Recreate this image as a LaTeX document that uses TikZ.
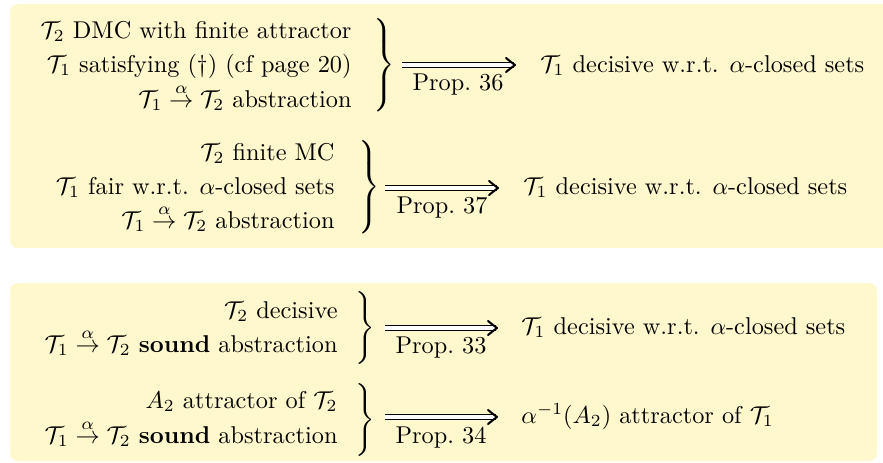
\documentclass[tikz,border=0pt]{standalone}
\usepackage{amsmath}
\usepackage{graphicx}
\usetikzlibrary{arrows.meta}
\definecolor{boxfill}{RGB}{255,248,204}
\delimiterfactor=1000
\delimitershortfall=0pt
\newcommand{\Tc}[1]{\mathcal{T}_{#1}}
\newcommand{\abstr}{$\Tc1 \stackrel{\alpha}{\rightarrow} \Tc2$}
\newcommand{\bracebox}[1]{$\left.\vcenter{\hbox{\rule{0pt}{#1}}}\right\}$}
\newcommand{\implhead}[1]{\draw[headline] ([shift={(-9,-7)}]#1) .. controls ([shift={(-3,-2.2)}]#1) .. (#1) .. controls ([shift={(-3,2.2)}]#1) .. ([shift={(-9,7)}]#1);}
\begin{document}
\begin{tikzpicture}[x=0.41152pt,y=-0.41152pt,
  panel/.style={fill=boxfill, draw=none, rounded corners=3.3pt},
  hyp/.style={anchor=base east, inner sep=0pt},
  res/.style={anchor=base west, inner sep=0pt},
  bracenode/.style={anchor=west, inner sep=0pt},
  lbl/.style={anchor=base, inner sep=0pt},
  implies/.style={double, double distance=1.3pt, line width=0.5pt, shorten >=0.6pt},
  headline/.style={line width=0.85pt, line cap=round, line join=round}]
\useasboundingbox (0,0) rectangle (883,462);
% panels
\fill[panel] (10,4) rectangle (900,248);
\fill[panel] (10,283) rectangle (877,461);
% block 1
\node[hyp] (h1a) at (352,38) {$\Tc2$ DMC with finite attractor};
\node[hyp] (h1b) at (352,72) {$\Tc1$ satisfying (\dag) (cf page 20)};
\node[hyp] (h1c) at (352,107) {\abstr{} abstraction};
\node[bracenode] (b1) at (370,65) {\scalebox{1}[1.07]{\bracebox{36pt}}};
\coordinate (a1s) at (402,65);
\coordinate (a1e) at (515,65);
\draw[implies] (a1s) -- (a1e);
\implhead{a1e}
\node[lbl] (p1) at (458,90) {Prop.~36};
\node[res] (r1) at (540,72) {$\Tc1$ decisive w.r.t. $\alpha$-closed sets};
% block 2
\node[hyp] (h2a) at (335,160) {$\Tc2$ finite MC};
\node[hyp] (h2b) at (335,194) {$\Tc1$ fair w.r.t. $\alpha$-closed sets};
\node[hyp] (h2c) at (335,228) {\abstr{} abstraction};
\node[bracenode] (b2) at (355,187) {\scalebox{1}[1.07]{\bracebox{36pt}}};
\coordinate (a2s) at (385,188);
\coordinate (a2e) at (498,188);
\draw[implies] (a2s) -- (a2e);
\implhead{a2e}
\node[lbl] (p2) at (442,213) {Prop.~37};
\node[res] (r2) at (523,194) {$\Tc1$ decisive w.r.t. $\alpha$-closed sets};
% block 3
\node[hyp] (h3a) at (338,318) {$\Tc2$ decisive};
\node[hyp] (h3b) at (338,352) {\abstr{} \textbf{sound} abstraction};
\node[bracenode] (b3) at (352,328) {\bracebox{29pt}};
\coordinate (a3s) at (385,328);
\coordinate (a3e) at (497,328);
\draw[implies] (a3s) -- (a3e);
\implhead{a3e}
\node[lbl] (p3) at (441,353) {Prop.~33};
\node[res] (r3) at (521,334) {$\Tc1$ decisive w.r.t. $\alpha$-closed sets};
% block 4
\node[hyp] (h4a) at (338,408) {$A_2$ attractor of $\Tc2$};
\node[hyp] (h4b) at (338,443) {\abstr{} \textbf{sound} abstraction};
\node[bracenode] (b4) at (352,420) {\bracebox{29pt}};
\coordinate (a4s) at (385,417);
\coordinate (a4e) at (497,417);
\draw[implies] (a4s) -- (a4e);
\implhead{a4e}
\node[lbl] (p4) at (441,443) {Prop.~34};
\node[res] (r4) at (521,423) {$\alpha^{-1}(A_2)$ attractor of $\Tc1$};
\end{tikzpicture}
\end{document}
